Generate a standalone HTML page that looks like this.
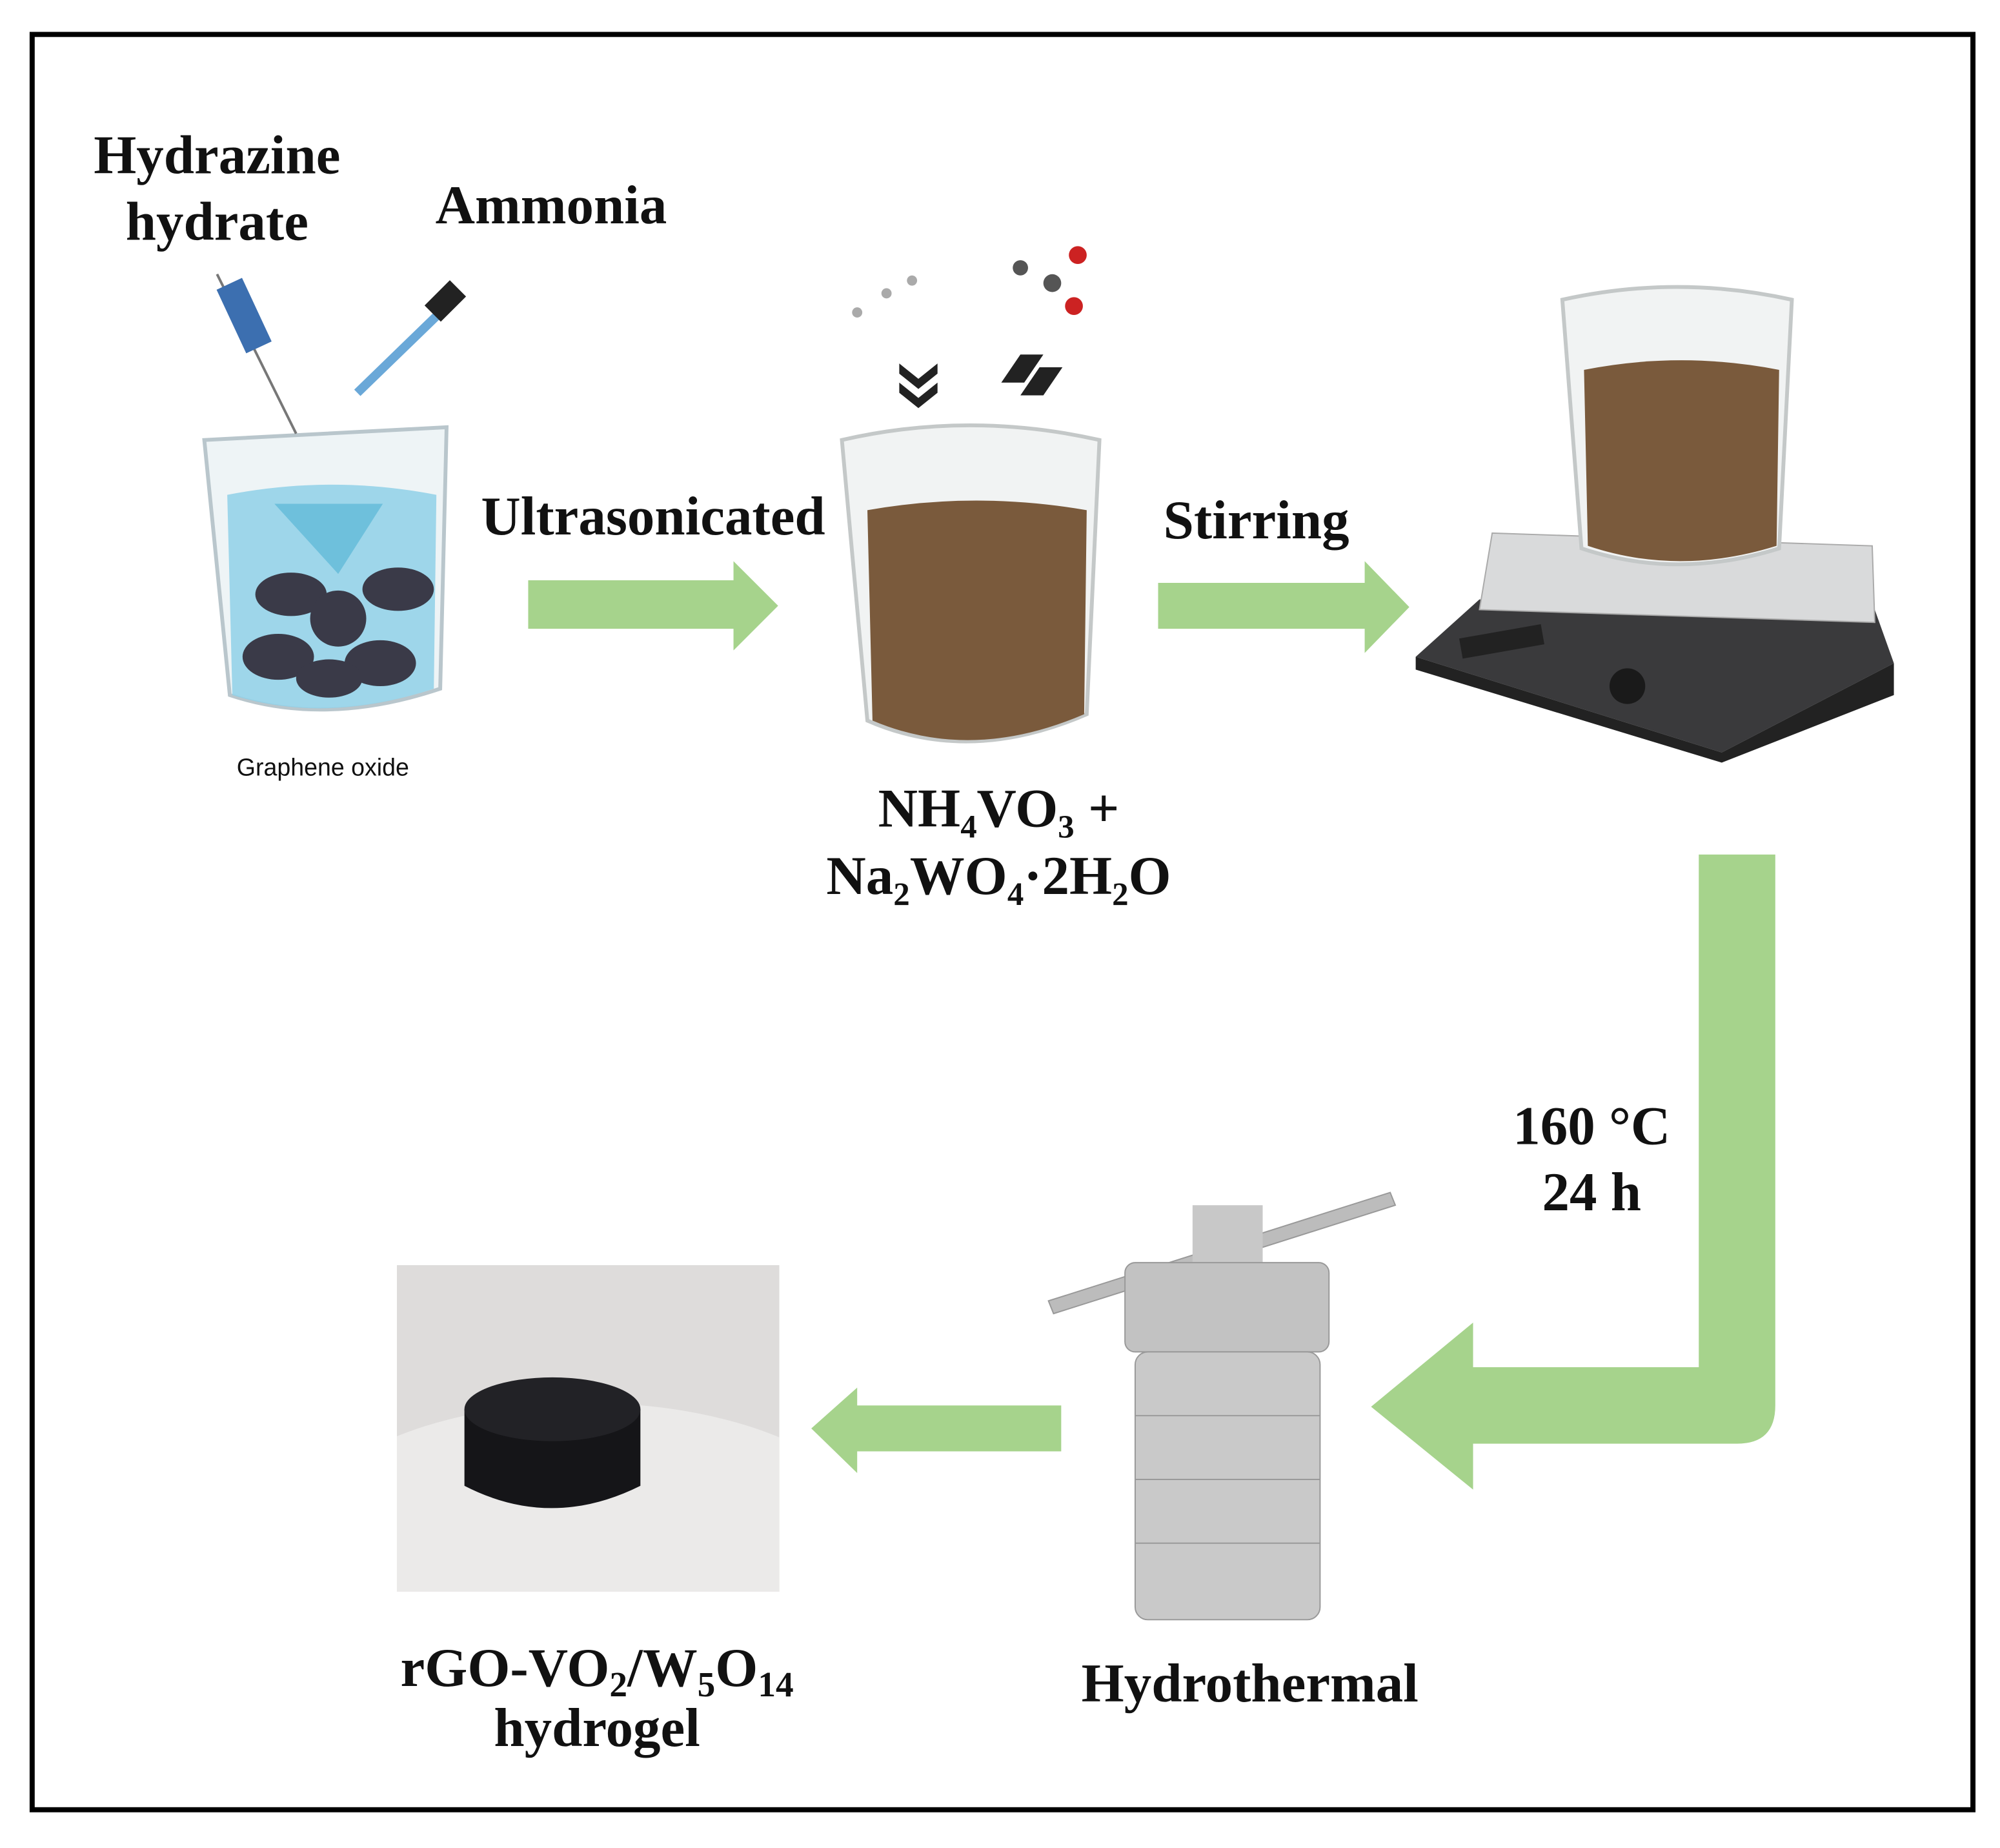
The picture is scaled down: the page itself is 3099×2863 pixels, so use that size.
<!DOCTYPE html>
<html><head><meta charset="utf-8"><style>
html,body{margin:0;padding:0;background:#fff;}
svg{display:block;}
text{font-family:"Liberation Serif",serif;font-weight:bold;fill:#111;}
</style></head><body>
<svg width="3099" height="2863" viewBox="0 0 1568 1449" xmlns="http://www.w3.org/2000/svg">
<defs><clipPath id="ph"><rect x="311" y="992" width="300" height="256"/></clipPath></defs>
<rect x="0" y="0" width="1568" height="1449" fill="#fff"/>
<rect x="25" y="27" width="1522" height="1392" fill="none" stroke="#000" stroke-width="4"/>

<g font-size="43" text-anchor="middle">
<text x="170" y="136">Hydrazine</text>
<text x="170" y="188">hydrate</text>
<text x="432" y="175">Ammonia</text>
<text x="512" y="419">Ultrasonicated</text>
<text x="985" y="422">Stirring</text>
<text x="783" y="648">NH₄VO₃ +</text>
<text x="783" y="701">Na₂WO₄·2H₂O</text>
<text x="1248" y="897">160 °C</text>
<text x="1248" y="949">24 h</text>
<text x="980" y="1334">Hydrothermal</text>
<text x="468" y="1322">rGO-VO<tspan font-size="28" dy="8">2</tspan><tspan dy="-8">/W</tspan><tspan font-size="28" dy="8">5</tspan><tspan dy="-8">O</tspan><tspan font-size="28" dy="8">14</tspan></text>
<text x="468" y="1369">hydrogel</text>
</g>
<text x="253" y="608" font-size="19" text-anchor="middle" style="font-family:'Liberation Sans',sans-serif;font-weight:normal">Graphene oxide</text>

<g fill="#a6d38c">
<path d="M414 455 H575 V440 L610 475 L575 510 V493 H414 Z"/>
<path d="M908 457 H1070 V440 L1105 476 L1070 512 V493 H908 Z"/>
<path d="M1332 670 H1392 V1102 Q1392 1132 1362 1132 H1155 V1168 L1075 1103 L1155 1037 V1072 H1332 Z"/>
<path d="M832 1102 V1138 H672 V1155 L636 1120 L672 1088 V1102 Z"/>
</g>

<!-- Beaker 1 -->
<path d="M160 345 L350 335 L345 540 Q255 570 180 545 Z" fill="#eef4f6" stroke="#b9c6cc" stroke-width="3"/>
<path d="M178 388 Q260 372 342 388 L340 540 Q255 568 182 545 Z" fill="#8fd0e8" opacity="0.85"/>
<path d="M215 395 L300 395 L265 450 Z" fill="#6ec0dc"/>
<g fill="#3a3a48">
<ellipse cx="228" cy="466" rx="28" ry="17"/><ellipse cx="312" cy="462" rx="28" ry="17"/>
<ellipse cx="265" cy="485" rx="22" ry="22"/><ellipse cx="218" cy="515" rx="28" ry="18"/>
<ellipse cx="298" cy="520" rx="28" ry="18"/><ellipse cx="258" cy="532" rx="26" ry="15"/>
</g>
<line x1="170" y1="215" x2="232" y2="340" stroke="#777" stroke-width="2"/>
<rect x="180" y="220" width="22" height="55" fill="#3c6fb0" transform="rotate(-25 191 247)"/>
<line x1="280" y1="308" x2="345" y2="245" stroke="#6aa8d8" stroke-width="7"/>
<rect x="340" y="222" width="18" height="28" fill="#222" transform="rotate(45 349 236)"/>

<!-- Beaker 2 -->
<path d="M660 345 Q760 322 862 345 L852 560 Q760 600 680 565 Z" fill="#f1f3f3" stroke="#c4c8c8" stroke-width="3"/>
<path d="M680 400 Q765 385 852 400 L850 560 Q762 598 684 565 Z" fill="#7a5a3c"/>
<g fill="#222"><path d="M705 285 l15 12 l15-12 v8 l-15 12 l-15-12z"/><path d="M705 300 l15 12 l15-12 v8 l-15 12 l-15-12z"/>
<path d="M785 300 l15-22 l18 0 l-15 22z"/><path d="M800 310 l15-22 l18 0 l-15 22z"/></g>
<g fill="#c22"><circle cx="845" cy="200" r="7"/><circle cx="842" cy="240" r="7"/></g>
<g fill="#555"><circle cx="800" cy="210" r="6"/><circle cx="825" cy="222" r="7"/></g>
<g fill="#aaa"><circle cx="672" cy="245" r="4"/><circle cx="695" cy="230" r="4"/><circle cx="715" cy="220" r="4"/></g>

<!-- Hot plate -->
<path d="M1110 515 L1160 470 L1470 478 L1485 520 L1350 590 Z" fill="#3a3a3c"/>
<path d="M1170 418 L1468 428 L1470 488 L1160 478 Z" fill="#d9dadb" stroke="#aaa"/>
<path d="M1110 515 L1350 590 L1485 520 L1485 545 L1350 598 L1110 525 Z" fill="#222"/>
<circle cx="1276" cy="538" r="14" fill="#1a1a1a"/>
<rect x="1145" y="495" width="65" height="16" fill="#222" transform="rotate(-10 1177 503)"/>
<path d="M1225 235 Q1315 215 1405 235 L1395 430 Q1315 455 1240 430 Z" fill="#f1f3f3" stroke="#c4c8c8" stroke-width="3"/>
<path d="M1242 290 Q1318 275 1395 290 L1393 428 Q1316 452 1245 428 Z" fill="#7a5a3c"/>

<!-- Autoclave -->
<path d="M822 1020 L1090 935 L1094 945 L826 1030 Z" fill="#bcbcbc" stroke="#999"/>
<rect x="935" y="945" width="55" height="50" fill="#c8c8c8"/>
<rect x="882" y="990" width="160" height="70" rx="8" fill="#c2c2c2" stroke="#999"/>
<rect x="890" y="1060" width="145" height="210" rx="10" fill="#c9c9c9" stroke="#999"/>
<g stroke="#999"><line x1="890" y1="1110" x2="1035" y2="1110"/><line x1="890" y1="1160" x2="1035" y2="1160"/><line x1="890" y1="1210" x2="1035" y2="1210"/></g>

<!-- Photo -->
<g clip-path="url(#ph)">
<rect x="311" y="992" width="300" height="256" fill="#dedcdb"/>
<ellipse cx="460" cy="1210" rx="230" ry="110" fill="#ebeae9"/>
</g>
<path d="M364 1105 Q432 1078 502 1105 L502 1165 Q432 1200 364 1165 Z" fill="#151518"/>
<ellipse cx="433" cy="1105" rx="69" ry="25" fill="#222226"/>
</svg>
</body></html>
